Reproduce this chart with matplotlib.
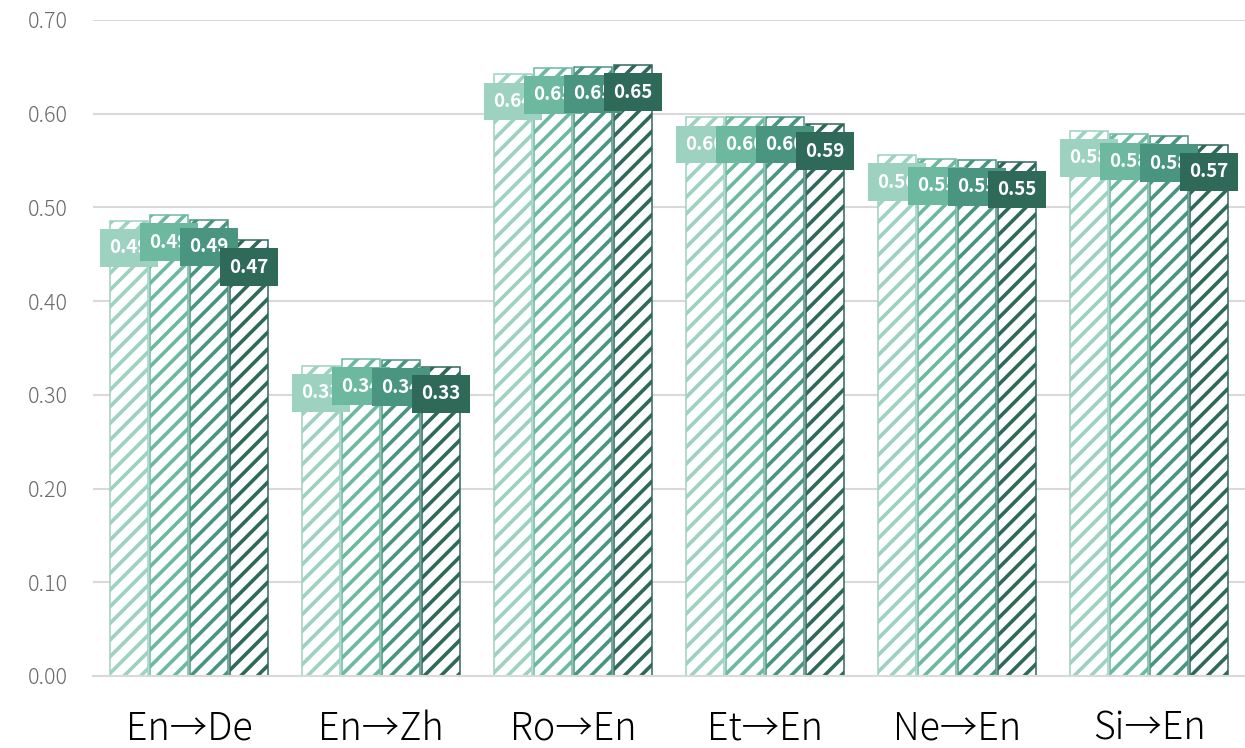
import matplotlib
matplotlib.use("Agg")
import matplotlib.pyplot as plt
import numpy as np

plt.rcParams['font.family'] = ['Noto Sans CJK JP', 'DejaVu Sans']
plt.rcParams['hatch.linewidth'] = 2.6

# scores per language pair, four systems each
pairs = ['En→De', 'En→Zh', 'Ro→En', 'Et→En', 'Ne→En', 'Si→En']
sys1 = [0.486, 0.331, 0.642, 0.596, 0.556, 0.582]
sys2 = [0.492, 0.338, 0.649, 0.596, 0.552, 0.578]
sys3 = [0.487, 0.337, 0.650, 0.596, 0.551, 0.576]
sys4 = [0.465, 0.330, 0.652, 0.589, 0.548, 0.567]
series = [sys1, sys2, sys3, sys4]
colors = ['#9dd1c0', '#6cb9a0', '#4a9580', '#2f6a58']

W, H = 1245, 748
fig = plt.figure(figsize=(W / 100, H / 100), dpi=100)
ax = fig.add_axes([93 / W, 1 - 676 / H, 1 - 93 / W, (676 - 20) / H])

x = np.arange(len(pairs))
step = 0.208
width = 0.195

for i, (vals, c) in enumerate(zip(series, colors)):
    xs = x + (i - 1.5) * step
    ax.bar(xs, vals, width, facecolor='white', edgecolor=c, hatch='//',
           linewidth=1.1, zorder=2)

# value labels sit just under each bar top, later series drawn over earlier ones
for i, (vals, c) in enumerate(zip(series, colors)):
    xs = x + (i - 1.5) * step
    for xi, v in zip(xs, vals):
        ax.annotate(f'{v:.2f}', (xi, v), xytext=(0, -19.5), textcoords='offset points',
                    ha='center', va='center', color='white', fontsize=13.5,
                    fontweight='bold', zorder=5 + i,
                    bbox=dict(boxstyle='square,pad=0.5', facecolor=c, edgecolor='none'))

ax.set_xlim(-0.5, len(pairs) - 0.5)
ax.set_ylim(0, 0.70)
ticks = np.arange(0, 0.71, 0.1)
ax.set_yticks(ticks)
ax.set_yticklabels([f'{t:.2f}' for t in ticks])
ax.yaxis.grid(True, color='#d9d9d9', linewidth=1.5, zorder=0)
ax.set_axisbelow(True)
ax.set_xticks(x)
ax.set_xticklabels(pairs, fontweight='light')
ax.tick_params(axis='y', length=0, pad=18, labelsize=15.5, labelcolor='#6b6b6b')
ax.tick_params(axis='x', length=0, pad=24, labelsize=27, labelcolor='black')
for lbl in ax.get_yticklabels():
    lbl.set_fontweight('light')
for s in ['top', 'right', 'left']:
    ax.spines[s].set_visible(False)
ax.spines['bottom'].set_color('#d9d9d9')
ax.spines['bottom'].set_linewidth(1.5)

fig.savefig('out.png', dpi=100)
